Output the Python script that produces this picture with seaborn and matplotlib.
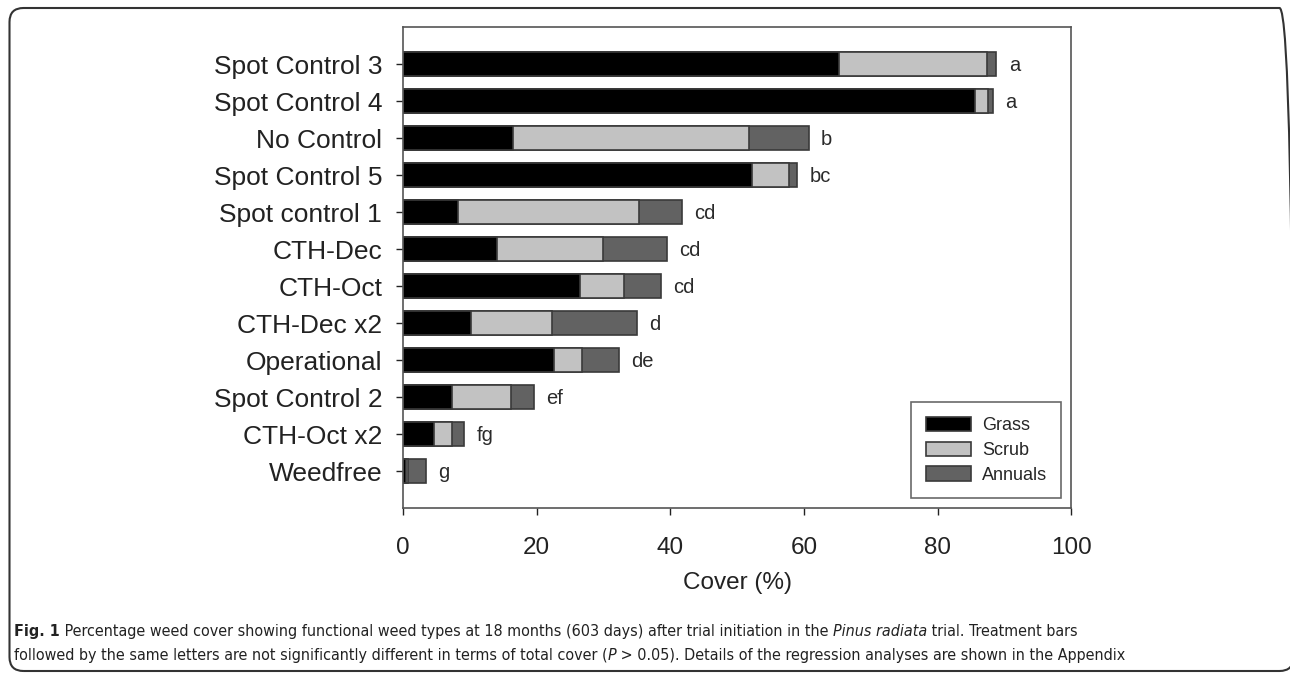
import numpy as np
import pandas as pd
import seaborn as sns
import matplotlib.pyplot as plt
from matplotlib.patches import FancyBboxPatch
from matplotlib.transforms import IdentityTransform

treatments = ["Spot Control 3", "Spot Control 4", "No Control", "Spot Control 5",
              "Spot control 1", "CTH-Dec", "CTH-Oct", "CTH-Dec x2", "Operational",
              "Spot Control 2", "CTH-Oct x2", "Weedfree"]
grass = [65.3, 85.6, 16.5, 52.2, 8.2, 14.1, 26.5, 10.2, 22.6, 7.4, 4.7, 0.4]
scrub = [22.1, 2.0, 35.3, 5.6, 27.1, 15.8, 6.6, 12.1, 4.2, 8.7, 2.6, 0.4]
annuals = [1.4, 0.7, 8.9, 1.2, 6.4, 9.6, 5.5, 12.7, 5.5, 3.5, 1.8, 2.6]
letters = ["a", "a", "b", "bc", "cd", "cd", "cd", "d", "de", "ef", "fg", "g"]

sns.set_style("white")
plt.rcParams['font.family'] = ['Liberation Sans', 'DejaVu Sans']

df = pd.DataFrame({"treatment": treatments, "grass": grass,
                   "scrub": scrub, "annuals": annuals})
df["gs"] = df["grass"] + df["scrub"]
df["total"] = df["gs"] + df["annuals"]

fig = plt.figure(figsize=(12.9, 6.79), dpi=100)
ax = fig.add_axes([0.3124, 0.2518, 0.518, 0.7084])

edge = "#3a3a3a"
sns.barplot(data=df, x="total", y="treatment", color="#626262", width=0.64,
            edgecolor=edge, linewidth=1.2, saturation=1, label="Annuals", ax=ax)
sns.barplot(data=df, x="gs", y="treatment", color="#c2c2c2", width=0.64,
            edgecolor=edge, linewidth=1.2, saturation=1, label="Scrub", ax=ax)
sns.barplot(data=df, x="grass", y="treatment", color="#000000", width=0.64,
            edgecolor=edge, linewidth=1.2, saturation=1, label="Grass", ax=ax)

for i, (tot, lab) in enumerate(zip(df["total"], letters)):
    ax.annotate(lab, (tot, i), xytext=(9, -1), textcoords="offset points",
                ha="left", va="center", fontsize=14.5, color="#2a2a2a")

ax.set_xlim(0, 100)
ax.set_ylim(12, -1)
ax.set_xticks([0, 20, 40, 60, 80, 100])
ax.tick_params(axis="x", labelsize=17.5, length=5, width=1, pad=16, colors="#222222", direction="out", bottom=True)
ax.tick_params(axis="y", labelsize=19, length=5, width=1, pad=10, colors="#222222", direction="out", left=True)
ax.set_xlabel("Cover (%)", fontsize=17.5, labelpad=9, color="#222222")
ax.set_ylabel("")
for s in ax.spines.values():
    s.set_visible(True)
    s.set_color("#555555")
    s.set_linewidth(1.2)

h, l = ax.get_legend_handles_labels()
leg = ax.legend(h[::-1], l[::-1], loc="lower right", bbox_to_anchor=(1.0, 0.0),
                borderaxespad=0.55, fontsize=13, frameon=True, fancybox=False,
                handlelength=2.5, handleheight=0.85, borderpad=0.8,
                labelspacing=0.4, handletextpad=0.6)
leg.get_frame().set_edgecolor("#444444")
leg.get_frame().set_linewidth(1.2)

# frame round the figure
box = FancyBboxPatch((9.5, 8), 1284, 663, boxstyle="round,pad=0,rounding_size=14",
                     transform=IdentityTransform(), fill=False, edgecolor="#333333",
                     linewidth=1.5)
fig.patches.append(box)

# caption, condensed look
renderer = fig.canvas.get_renderer()
capfam = ["DejaVu Sans"]


def rich_line(y, parts, size, draw=True):
    x = 14 / 1290
    made = []
    for s, kw in parts:
        t = fig.text(x, y, s, fontsize=size, family=capfam, stretch="condensed",
                     color="#222222", va="baseline", **kw)
        bb = t.get_window_extent(renderer)
        x += bb.width / fig.bbox.width
        made.append(t)
    if not draw:
        for t in made:
            t.remove()
    return x * 1290 - 14


line1 = [("Fig. 1", {"weight": "bold"}),
         (" Percentage weed cover showing functional weed types at 18 months (603 days) after trial initiation in the ", {}),
         ("Pinus radiata", {"style": "italic"}),
         (" trial. Treatment bars", {})]
line2 = [("followed by the same letters are not significantly different in terms of total cover (", {}),
         ("P", {"style": "italic"}),
         (" > 0.05). Details of the regression analyses are shown in the Appendix", {})]
w = rich_line(0.5, line1, 12, draw=False)
size = 12 * 1061 / w
rich_line(1 - 636 / 679, line1, size)
rich_line(1 - 660 / 679, line2, size)

fig.savefig("out.png", dpi=100)
